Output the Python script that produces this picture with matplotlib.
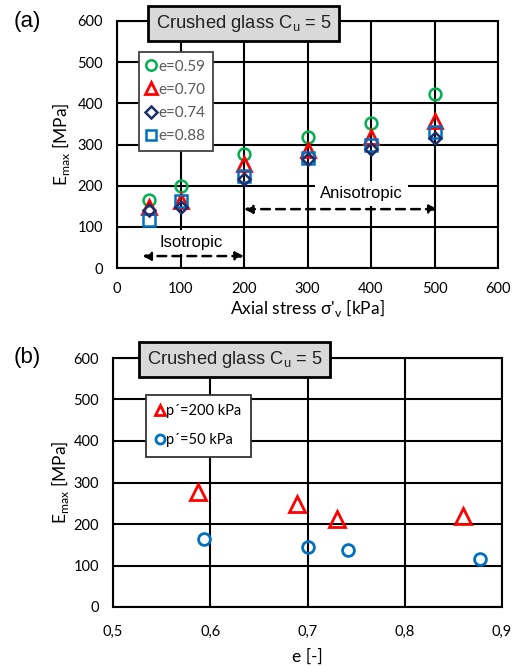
import matplotlib
matplotlib.use("Agg")
import matplotlib.pyplot as plt
from matplotlib.lines import Line2D

# panel (a): Emax vs axial stress, one series per void ratio
stress = [50, 100, 200, 300, 400, 500]
e059 = [164, 198, 278, 319, 352, 423]
e070 = [147, 163, 252, 287, 318, 357]
e074 = [140, 148, 215, 265, 290, 315]
e088 = [116, 162, 223, 267, 298, 330]
labels_a = ["e=0.59", "e=0.70", "e=0.74", "e=0.88"]

# panel (b): Emax vs void ratio at two stresses
e_200 = [0.587, 0.689, 0.730, 0.860]
E_200 = [278, 248, 212, 220]
e_50 = [0.594, 0.700, 0.742, 0.877]
E_50 = [164, 145, 137, 115]
labels_b = ["p\u00b4=200 kPa", "p\u00b4=50 kPa"]

GREEN = "#00B050"
RED = "#FF0000"
NAVY = "#1F2F6B"
BLUE = "#0070C0"
TICKFONT = "Lato"
BOXFONT = "Liberation Sans"

fig = plt.figure(figsize=(5.17, 6.66), dpi=100)
W, H = 517, 666


def px_axes(l, t, r, b):
    return fig.add_axes([l / W, 1 - b / H, (r - l) / W, (b - t) / H])


def style(ax):
    ax.grid(True, color="black", lw=1.5)
    ax.set_axisbelow(True)
    for s in ax.spines.values():
        s.set_linewidth(1.5)
        s.set_color("black")
    ax.tick_params(length=0, pad=10, labelsize=10.5)
    for lab in ax.get_xticklabels() + ax.get_yticklabels():
        lab.set_fontfamily(TICKFONT)


def title_box(x, y):
    fig.text(x / W, 1 - y / H, "Crushed glass C$_\\mathregular{u}$ = 5",
             ha="center", va="center", fontsize=13.2, family=BOXFONT,
             color="#222222",
             bbox=dict(boxstyle="square,pad=0.4", fc="#D9D9D9", ec="black", lw=2))


# ---- (a)
ax1 = px_axes(117, 21, 498, 268)
ax1.plot(stress, e059, ls="none", marker="o", ms=8.5, mfc="none", mec=GREEN, mew=1.8, zorder=3)
ax1.plot(stress, e070, ls="none", marker="^", ms=10, mfc="none", mec=RED, mew=2, zorder=3)
ax1.plot(stress, e088, ls="none", marker="s", ms=8, mfc="none", mec=BLUE, mew=1.8, zorder=3)
ax1.plot(stress, e074, ls="none", marker="D", ms=6.5, mfc="none", mec=NAVY, mew=1.8, zorder=4)
ax1.set_xlim(0, 600)
ax1.set_ylim(0, 600)
ax1.set_xticks(range(0, 601, 100))
ax1.set_yticks(range(0, 601, 100))
style(ax1)
ax1.set_xlabel("Axial stress \u03c3'$_\\mathregular{v}$ [kPa]", fontsize=12.5, family=TICKFONT, labelpad=1)
ax1.set_ylabel("E$_\\mathregular{max}$ [MPa]", fontsize=12.5, family=TICKFONT, labelpad=4)

h_a = [
    Line2D([], [], ls="none", marker="o", ms=7.5, mfc="none", mec=GREEN, mew=1.8),
    Line2D([], [], ls="none", marker="^", ms=8, mfc="none", mec=RED, mew=2),
    Line2D([], [], ls="none", marker="D", ms=6, mfc="none", mec=NAVY, mew=1.8),
    Line2D([], [], ls="none", marker="s", ms=7, mfc="none", mec=BLUE, mew=1.8),
]
leg = ax1.legend(h_a, labels_a, loc="upper left", bbox_to_anchor=(139 / W, 1 - 52 / H),
                 bbox_transform=fig.transFigure, borderaxespad=0, fancybox=False,
                 framealpha=1, edgecolor="#404040", handlelength=0.6, handletextpad=0.15,
                 labelspacing=0.6, borderpad=0.5, prop=dict(family=TICKFONT, size=11))
leg.get_frame().set_linewidth(1.3)
for t in leg.get_texts():
    t.set_color("#595959")

ax1.annotate("", xy=(40, 29), xytext=(200, 29),
             arrowprops=dict(arrowstyle="<|-|>", ls=(0, (3.5, 2.5)), lw=1.8, color="black",
                             mutation_scale=12, shrinkA=0, shrinkB=0), zorder=5)
ax1.annotate("", xy=(200, 143), xytext=(505, 143),
             arrowprops=dict(arrowstyle="<|-|>", ls=(0, (3.5, 2.5)), lw=1.8, color="black",
                             mutation_scale=12, shrinkA=0, shrinkB=0), zorder=5)
ax1.text(117, 63, "Isotropic", ha="center", va="center", fontsize=12, family=BOXFONT,
         bbox=dict(boxstyle="square,pad=0.25", fc="white", ec="none"), zorder=4)
ax1.text(385, 182, "Anisotropic", ha="center", va="center", fontsize=12, family=BOXFONT,
         bbox=dict(boxstyle="square,pad=0.3", fc="white", ec="none"), zorder=4)

title_box(243.5, 23.5)
fig.text(27 / W, 1 - 22 / H, "(a)", ha="center", va="center", fontsize=16, family=BOXFONT)

# ---- (b)
ax2 = px_axes(113, 358, 502, 607)
ax2.plot(e_200, E_200, ls="none", marker="^", ms=11, mfc="none", mec=RED, mew=2, zorder=3)
ax2.plot(e_50, E_50, ls="none", marker="o", ms=8.5, mfc="none", mec=BLUE, mew=2, zorder=3)
ax2.set_xlim(0.5, 0.9)
ax2.set_ylim(0, 600)
xt = [0.5, 0.6, 0.7, 0.8, 0.9]
ax2.set_xticks(xt)
ax2.set_xticklabels([f"{v:.1f}".replace(".", ",") for v in xt])
ax2.set_yticks(range(0, 601, 100))
style(ax2)
ax2.tick_params(axis="x", pad=13)
ax2.set_xlabel("e [-]", fontsize=12.5, family=TICKFONT, labelpad=7)
ax2.set_ylabel("E$_\\mathregular{max}$ [MPa]", fontsize=12.5, family=TICKFONT, labelpad=2)

h_b = [
    Line2D([], [], ls="none", marker="^", ms=7.5, mfc="none", mec=RED, mew=2),
    Line2D([], [], ls="none", marker="o", ms=6.5, mfc="none", mec=BLUE, mew=2),
]
leg2 = ax2.legend(h_b, labels_b, loc="upper left", bbox_to_anchor=(146 / W, 1 - 395 / H),
                  bbox_transform=fig.transFigure, borderaxespad=0, fancybox=False,
                  framealpha=1, edgecolor="#333333", handlelength=0.6, handletextpad=0.15,
                  labelspacing=1.0, borderpad=0.65, prop=dict(family=TICKFONT, size=10.5))
leg2.get_frame().set_linewidth(1.3)

title_box(234.5, 359.5)
fig.text(27 / W, 1 - 358 / H, "(b)", ha="center", va="center", fontsize=16, family=BOXFONT)

fig.savefig("out.png", dpi=100)
